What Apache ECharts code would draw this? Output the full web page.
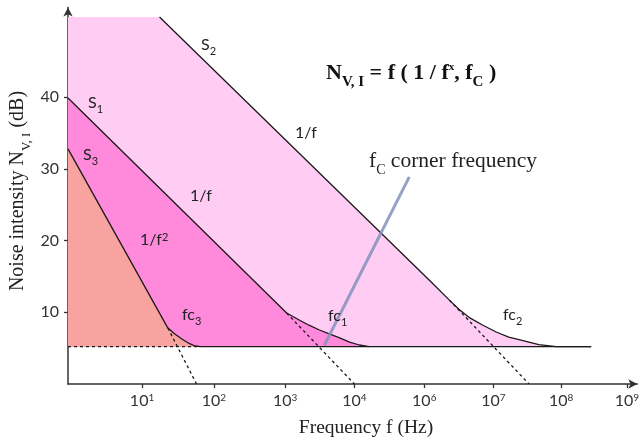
<!DOCTYPE html>
<html>
<head>
<meta charset="utf-8">
<script src="https://cdn.jsdelivr.net/npm/echarts@6/dist/echarts.min.js"></script>
<style>
  html, body { margin: 0; padding: 0; background: #fff; }
  #chart { width: 642px; height: 443px; }
</style>
</head>
<body>
<div id="chart"></div>
<script>
// x is measured in "decade slots" along the drawn axis, y in dB
const floorDb = 5.2;
const xTickPos = [1.06, 2.09, 3.11, 4.10, 5.10, 6.09, 7.06, 8.0];
const xTickExp = ['1', '2', '3', '4', '6', '7', '8', '9'];
const yTicks = [10, 20, 30, 40];

// noise spectra
const s2Points = [[0, 51.2], [1.31, 51.2], [5.17, 14.5], [5.46, 11.7], [5.6, 10.4], [5.74, 9.3], [5.94, 8.2], [6.13, 7.25], [6.31, 6.55], [6.5, 6.1], [6.74, 5.5], [6.99, 5.2], [7.49, 5.2]];
const s1Points = [[0, 39.9], [3.13, 9.9], [3.31, 8.93], [3.45, 8.2], [3.6, 7.53], [3.75, 6.95], [3.89, 6.42], [4.03, 5.85], [4.17, 5.44], [4.31, 5.2]];
const s3Points = [[0, 32.8], [1.43, 7.8], [1.53, 6.97], [1.63, 6.28], [1.74, 5.62], [1.82, 5.3], [1.89, 5.2]];

// dashed 1/f^x asymptotes past the corner
const s3Asym = [[1.43, 7.8], [1.84, 0]];
const s1Asym = [[3.13, 9.9], [4.1, 0]];
const s2Asym = [[5.46, 11.7], [6.6, 0]];

// floor: dashed under S3, solid after
const floorDashed = [[0, floorDb], [1.89, floorDb]];
const floorSolid = [[1.89, floorDb], [7.49, floorDb]];

// pointer from the "fC corner frequency" note
const pointer = [[4.886, 28.9], [3.67, 5.4]];

const chart = echarts.init(document.getElementById('chart'));

function fill(data, color) {
    return {
        type: 'line', data: data, symbol: 'none', silent: true,
        lineStyle: { width: 0 },
        areaStyle: { color: color, opacity: 1, origin: floorDb },
        z: 1
    };
}
function line(data, dashed, color, width, z) {
    return {
        type: 'line', data: data, symbol: 'none', silent: true,
        lineStyle: { color: color || '#1a1a1a', width: width || 1.3, type: dashed ? [3, 3] : 'solid', join: 'round' },
        z: z || 3
    };
}

const sub = { fontSize: 11, verticalAlign: 'bottom', padding: [0, 0, -4, 0] };
function label(text, x, y) {
    return {
        type: 'text', x: x, y: y, z: 10,
        style: {
            text: text, fill: '#222',
            font: '16px Lato',
            textVerticalAlign: 'middle',
            rich: {
                sub: Object.assign({ fontFamily: 'Lato', fill: '#222' }, sub),
                sup: { fontFamily: 'Lato', fontSize: 11, verticalAlign: 'top', fill: '#222' }
            }
        }
    };
}

const option = {
    animation: false,
    grid: { left: 68, right: 3.5, top: 7.6, bottom: 59 },
    xAxis: {
        type: 'value', min: 0, max: 8.15,
        axisLine: { lineStyle: { color: '#333', width: 1.5 }, symbol: ['none', 'arrow'], symbolSize: [7, 9] },
        axisTick: { customValues: xTickPos, length: 4, lineStyle: { color: '#333', width: 1.3 } },
        splitLine: { show: false },
        axisLabel: {
            customValues: xTickPos, margin: 9,
            formatter: function (v) {
                let i = 0;
                xTickPos.forEach(function (p, k) { if (Math.abs(p - v) < Math.abs(xTickPos[i] - v)) i = k; });
                return '{b|10}{s|' + xTickExp[i] + '}';
            },
            rich: {
                b: { fontSize: 16, fontFamily: 'Lato', color: '#333' },
                s: { fontSize: 10, fontFamily: 'Lato', color: '#333', verticalAlign: 'top' }
            }
        }
    },
    yAxis: {
        type: 'value', min: 0, max: 52.5,
        axisLine: { show: true, lineStyle: { color: '#333', width: 1.5 }, symbol: ['none', 'arrow'], symbolSize: [7, 9] },
        axisTick: { show: true, customValues: yTicks, length: 4, lineStyle: { color: '#333', width: 1.3 } },
        splitLine: { show: false },
        axisLabel: { customValues: yTicks, margin: 9, fontSize: 16, fontFamily: 'Lato', color: '#333' }
    },
    series: [
        fill(s2Points, '#FFCCF4'),
        fill(s1Points, '#FF8ADC'),
        fill(s3Points, '#F9A3A0'),
        line(s2Points.slice(1)),
        line(s1Points),
        line(s3Points),
        line(floorSolid),
        line(floorDashed, true),
        line(s3Asym, true),
        line(s1Asym, true),
        line(s2Asym, true),
        line(pointer, false, 'rgba(130,146,188,0.85)', 3, 4)
    ],
    graphic: [
        label('S{sub|2}', 201, 45),
        label('S{sub|1}', 88, 103),
        label('S{sub|3}', 83, 155),
        label('1/f', 295, 133),
        label('1/f', 190, 196),
        label('1/f{sup|2}', 140, 240),
        label('fc{sub|3}', 182, 315),
        label('fc{sub|1}', 328, 316),
        label('fc{sub|2}', 503, 315),
        {
            type: 'text', x: 326, y: 73, z: 10,
            style: {
                text: 'N{s|V, I} = f ( 1 / f{p|x}, f{s|C} )',
                font: 'bold 22px "Liberation Serif"', fill: '#111', textVerticalAlign: 'middle',
                rich: {
                    s: { fontFamily: 'Liberation Serif', fontWeight: 'bold', fontSize: 15, verticalAlign: 'bottom', padding: [0, 0, -6, 0] },
                    p: { fontFamily: 'Liberation Serif', fontWeight: 'bold', fontSize: 11, verticalAlign: 'top' }
                }
            }
        },
        {
            type: 'text', x: 369, y: 161, z: 10,
            style: {
                text: 'f{s|C} corner frequency',
                font: '21.5px "Liberation Serif"', fill: '#222', textVerticalAlign: 'middle',
                rich: { s: { fontFamily: 'Liberation Serif', fontSize: 14, verticalAlign: 'bottom', padding: [0, 0, -5, 0] } }
            }
        },
        {
            type: 'text', x: 366, y: 428, z: 10,
            style: { text: 'Frequency f (Hz)', font: '19.5px "Liberation Serif"', fill: '#222', textAlign: 'center', textVerticalAlign: 'middle' }
        },
        {
            type: 'text', x: 18, y: 191, rotation: Math.PI / 2, z: 10,
            style: {
                text: 'Noise intensity N{s|V, I} (dB)',
                font: '20px "Liberation Serif"', fill: '#222', textAlign: 'center', textVerticalAlign: 'middle',
                rich: { s: { fontFamily: 'Liberation Serif', fontSize: 13, verticalAlign: 'bottom', padding: [0, 0, -5, 0] } }
            }
        }
    ]
};
chart.setOption(option);
</script>
</body>
</html>
